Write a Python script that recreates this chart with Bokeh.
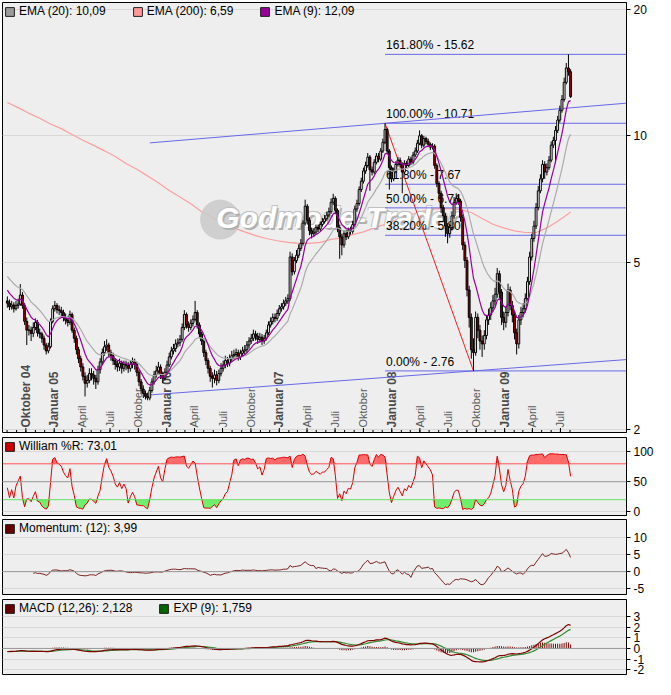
import numpy as np
import pandas as pd
from bokeh.plotting import figure
from bokeh.layouts import column
from bokeh.models import (Range1d, FixedTicker, Legend, LegendItem, Label, Span,
                          PrintfTickFormatter)
from bokeh.embed import file_html
from bokeh.resources import INLINE
from bokeh.core.properties import value

FONT = "Liberation Sans"

# ---------------- data (weekly candles) ----------------
start_date = "2004-08-02"
first_open = 4.05
closes = [4.00, 3.92, 3.96, 3.88, 3.95, 3.98, 4.18, 3.95, 3.62, 3.45,
          3.45, 3.39, 3.50, 3.60, 3.40, 3.38, 3.30, 3.18, 3.08, 3.15,
          3.62, 3.88, 3.95, 3.86, 3.84, 3.80, 3.70, 3.64, 3.60, 3.76,
          3.45, 3.30, 3.10, 2.95, 2.82, 2.68, 2.58, 2.62, 2.72, 2.70,
          2.65, 2.60, 2.78, 2.90, 3.05, 3.15, 3.18, 3.05, 3.00, 2.92,
          2.86, 2.82, 2.88, 2.80, 2.86, 2.84, 2.80, 2.86, 2.90, 2.86,
          2.74, 2.60, 2.50, 2.44, 2.40, 2.38, 2.48, 2.60, 2.70, 2.76,
          2.82, 2.70, 2.65, 2.74, 2.85, 2.98, 3.08, 3.12, 3.20, 3.22,
          3.28, 3.50, 3.76, 3.55, 3.50, 3.58, 3.66, 3.80, 3.55, 3.38,
          3.25, 3.05, 2.92, 2.80, 2.68, 2.65, 2.70, 2.62, 2.72, 2.80,
          2.85, 2.92, 2.88, 2.95, 3.00, 3.02, 3.05, 2.98, 3.04, 3.08,
          3.10, 3.18, 3.25, 3.30, 3.38, 3.34, 3.28, 3.32, 3.25, 3.30,
          3.40, 3.55, 3.62, 3.70, 3.68, 3.78, 3.88, 3.92, 4.00, 4.05,
          4.10, 5.15, 4.75, 5.05, 5.20, 5.40, 5.55, 6.20, 6.80, 6.30,
          5.95, 5.85, 5.90, 6.05, 6.00, 6.15, 6.25, 6.35, 6.48, 6.60,
          6.95, 7.10, 6.65, 6.05, 5.75, 5.50, 5.85, 5.75, 5.95, 5.92,
          6.15, 6.70, 6.90, 7.45, 7.80, 8.25, 8.50, 8.90, 8.30, 8.20,
          8.65, 8.95, 8.80, 9.20, 9.65, 10.35, 9.20, 8.40, 7.90, 8.25,
          8.55, 8.75, 8.55, 8.20, 8.60, 8.50, 8.80, 8.65, 9.00, 9.20,
          9.60, 10.00, 9.50, 9.85, 9.70, 9.55, 9.40, 9.45, 8.50, 7.70,
          7.30, 6.75, 6.45, 6.10, 5.85, 6.05, 6.45, 6.95, 7.10, 7.00,
          6.40, 5.50, 5.05, 4.30, 3.70, 3.10, 3.05, 3.70, 3.45, 3.25,
          3.20, 3.35, 3.65, 3.75, 3.90, 4.05, 4.20, 4.70, 4.25, 3.70,
          3.60, 3.80, 4.30, 3.95, 3.75, 3.40, 3.20, 3.65, 3.80, 3.88,
          4.10, 4.50, 5.15, 5.70, 6.10, 6.75, 7.40, 7.90, 8.55, 8.20,
          8.40, 8.75, 9.50, 9.75, 10.30, 10.90, 11.50, 12.20, 13.40, 14.50,
          14.20, 12.40]
highs = [4.15, 4.08, 4.05, 4.02, 4.05, 4.10, 4.44, 4.25, 4.00, 3.70,
         3.55, 3.52, 3.60, 3.68, 3.65, 3.48, 3.42, 3.35, 3.22, 3.22,
         3.68, 3.95, 4.05, 4.00, 3.95, 3.92, 3.86, 3.78, 3.72, 3.84,
         3.80, 3.50, 3.35, 3.15, 3.00, 2.88, 2.74, 2.70, 2.80, 2.80,
         2.76, 2.70, 2.84, 2.96, 3.12, 3.25, 3.28, 3.22, 3.10, 3.05,
         2.96, 2.92, 2.95, 2.92, 2.92, 2.92, 2.90, 2.92, 2.97, 2.95,
         2.90, 2.78, 2.64, 2.55, 2.48, 2.45, 2.53, 2.65, 2.76, 2.84,
         2.90, 2.86, 2.75, 2.80, 2.92, 3.05, 3.15, 3.20, 3.28, 3.30,
         3.36, 3.58, 3.85, 3.80, 3.62, 3.66, 3.74, 4.05, 3.85, 3.60,
         3.42, 3.30, 3.10, 2.96, 2.84, 2.74, 2.78, 2.76, 2.78, 2.88,
         2.92, 3.00, 2.98, 3.02, 3.08, 3.10, 3.12, 3.10, 3.10, 3.15,
         3.18, 3.25, 3.32, 3.38, 3.46, 3.44, 3.40, 3.40, 3.38, 3.36,
         3.46, 3.62, 3.70, 3.78, 3.78, 3.86, 3.96, 4.00, 4.08, 4.14,
         4.20, 5.30, 5.25, 5.15, 5.35, 5.52, 5.68, 6.30, 7.05, 6.88,
         6.40, 6.05, 6.02, 6.15, 6.15, 6.25, 6.38, 6.48, 6.60, 6.75,
         7.10, 7.28, 7.18, 6.72, 6.15, 5.85, 5.95, 5.98, 6.05, 6.08,
         6.28, 6.82, 7.05, 7.58, 7.95, 8.40, 8.68, 9.10, 9.00, 8.45,
         8.80, 9.10, 9.10, 9.35, 9.85, 10.71, 10.45, 9.30, 8.50, 8.40,
         8.70, 8.90, 8.88, 8.65, 8.75, 8.72, 8.95, 8.92, 9.15, 9.38,
         9.78, 10.30, 10.10, 10.00, 9.95, 9.85, 9.65, 9.60, 9.55, 8.60,
         7.80, 7.40, 6.85, 6.55, 6.20, 6.18, 6.60, 7.15, 7.30, 7.25,
         7.08, 6.50, 5.60, 5.15, 4.40, 3.78, 3.30, 3.82, 3.78, 3.55,
         3.35, 3.45, 3.75, 3.88, 4.02, 4.18, 4.35, 4.85, 4.78, 4.32,
         3.82, 3.92, 4.45, 4.38, 4.05, 3.82, 3.48, 3.75, 3.92, 4.00,
         4.22, 4.62, 5.30, 5.85, 6.28, 6.92, 7.60, 8.10, 8.75, 8.70,
         8.60, 8.95, 9.70, 9.95, 10.55, 11.15, 11.80, 12.50, 13.75, 14.90,
         15.62, 14.40]
lows = [3.90, 3.85, 3.86, 3.80, 3.84, 3.88, 3.94, 3.88, 3.55, 3.18,
        3.35, 3.25, 3.32, 3.45, 3.33, 3.30, 3.22, 3.10, 3.02, 3.04,
        3.12, 3.58, 3.82, 3.78, 3.75, 3.72, 3.62, 3.56, 3.52, 3.55,
        3.40, 3.22, 3.02, 2.88, 2.75, 2.62, 2.40, 2.52, 2.58, 2.62,
        2.56, 2.50, 2.56, 2.72, 2.86, 3.00, 3.08, 2.98, 2.92, 2.85,
        2.78, 2.75, 2.76, 2.72, 2.75, 2.77, 2.73, 2.75, 2.80, 2.78,
        2.68, 2.54, 2.44, 2.38, 2.36, 2.35, 2.35, 2.45, 2.56, 2.66,
        2.72, 2.64, 2.58, 2.62, 2.70, 2.82, 2.94, 3.02, 3.06, 3.14,
        3.16, 3.24, 3.45, 3.48, 3.42, 3.45, 3.52, 3.62, 3.48, 3.30,
        3.18, 2.98, 2.85, 2.72, 2.60, 2.52, 2.58, 2.55, 2.58, 2.68,
        2.75, 2.80, 2.82, 2.83, 2.90, 2.94, 2.96, 2.92, 2.93, 2.98,
        3.02, 3.05, 3.12, 3.20, 3.25, 3.26, 3.20, 3.22, 3.18, 3.20,
        3.26, 3.36, 3.50, 3.56, 3.60, 3.63, 3.73, 3.82, 3.86, 3.94,
        3.98, 4.05, 4.65, 4.68, 4.98, 5.12, 5.32, 5.48, 6.12, 6.15,
        5.80, 5.70, 5.75, 5.82, 5.90, 5.92, 6.08, 6.18, 6.28, 6.40,
        6.52, 6.85, 6.55, 5.90, 5.10, 5.20, 5.42, 5.65, 5.68, 5.82,
        5.85, 6.08, 6.60, 6.82, 7.35, 7.70, 8.12, 8.40, 7.40, 8.05,
        8.10, 8.55, 8.65, 8.70, 9.10, 9.55, 9.05, 7.45, 7.75, 7.80,
        8.15, 8.45, 8.40, 7.30, 8.10, 8.35, 8.40, 8.52, 8.55, 8.90,
        9.10, 9.50, 9.35, 9.40, 9.55, 9.40, 9.25, 9.28, 8.35, 7.55,
        7.10, 6.55, 6.25, 5.75, 5.55, 5.72, 5.95, 6.35, 6.85, 6.85,
        6.25, 5.35, 4.85, 4.15, 3.50, 2.95, 2.76, 3.00, 3.30, 3.10,
        2.98, 3.10, 3.28, 3.55, 3.65, 3.82, 3.95, 4.12, 4.10, 3.55,
        3.45, 3.50, 3.72, 3.85, 3.60, 3.28, 3.02, 3.12, 3.55, 3.70,
        3.80, 4.02, 4.42, 5.05, 5.60, 6.00, 6.65, 7.30, 7.75, 7.90,
        8.05, 8.30, 8.65, 9.35, 8.60, 10.15, 10.75, 11.35, 12.05, 13.25,
        13.90, 12.30]

# EMA(200) as drawn (it carries history from before the window), every 5 weeks
ema200_weeks = list(range(0, 261, 5)) + [261]
ema200_vals = [12.0, 11.67, 11.31, 11.01, 10.67, 10.40, 10.07, 9.76, 9.49, 9.21,
               8.93, 8.59, 8.33, 8.03, 7.73, 7.41, 7.15, 6.89, 6.60, 6.39,
               6.20, 6.04, 5.91, 5.79, 5.70, 5.63, 5.58, 5.55, 5.55, 5.58,
               5.67, 5.72, 5.82, 5.91, 6.04, 6.16, 6.30, 6.43, 6.57, 6.67,
               6.71, 6.71, 6.67, 6.57, 6.36, 6.16, 6.04, 5.94, 5.89, 5.89,
               6.04, 6.26, 6.53, 6.59]

# starting values of the indicators (history before the window)
ema20_seed, ema9_seed = 4.70, 4.37
ema12_seed, ema26_seed, signal_seed = 4.15, 4.45, -0.30

legend_main = ["EMA (20): 10,09", "EMA (200): 6,59", "EMA (9): 12,09"]
legend_wr = "William %R: 73,01"
legend_mom = "Momentum: (12): 3,99"
legend_macd = ["MACD (12,26): 2,128", "EXP (9): 1,759"]

fib_pct = [0.0, 38.2, 50.0, 61.8, 100.0, 161.8]
fib_val = [2.76, 5.80, 6.74, 7.67, 10.71, 15.62]
fib_high_week = 175
fib_low_week = 216
upper_trend_weeks, upper_trend_vals = [66, 175], [9.62, 10.71]
lower_trend_weeks, lower_trend_vals = [66, 216], [2.42, 2.76]

label_dates = ["2004-10-01", "2005-01-01", "2005-04-01", "2005-07-01", "2005-10-01",
               "2006-01-01", "2006-04-01", "2006-07-01", "2006-10-01", "2007-01-01",
               "2007-04-01", "2007-07-01", "2007-10-01", "2008-01-01", "2008-04-01",
               "2008-07-01", "2008-10-01", "2009-01-01", "2009-04-01", "2009-07-01"]
label_texts = ["Oktober 04", "Januar 05", "April", "Juli", "Oktober",
               "Januar 06", "April", "Juli", "Oktober", "Januar 07",
               "April", "Juli", "Oktober", "Januar 08", "April",
               "Juli", "Oktober", "Januar 09", "April", "Juli"]
label_bold = [True, True, False, False, False, True, False, False, False, True,
              False, False, False, True, False, False, False, True, False, False]

price_ticks = [2, 5, 10, 20]
wr_ticks = [0, 50, 100]
mom_ticks = [-5, 0, 5, 10]
macd_ticks = [-2, -1, 0, 1, 2, 3]

# ---------------- helpers ----------------
t0 = pd.Timestamp(start_date)
WEEK_MS = 7 * 24 * 3600 * 1000.0


def wk(w):
    return (t0 + pd.Timedelta(days=7 * w)).value / 1e6


def ms(d):
    return pd.Timestamp(d).value / 1e6


def ema(vals, n, seed):
    a = 2.0 / (n + 1)
    e = seed
    out = []
    for v in vals:
        e = e + a * (v - e)
        out.append(e)
    return np.array(out)


n = len(closes)
c = np.array(closes)
o = np.array([first_open] + closes[:-1])
h = np.array(highs)
l = np.array(lows)
x = np.array([wk(i) for i in range(n)])

ema20 = ema(c, 20, ema20_seed)
ema9 = ema(c, 9, ema9_seed)

wr = np.array([100.0 * (c[i] - l[max(0, i - 13):i + 1].min()) /
               (h[max(0, i - 13):i + 1].max() - l[max(0, i - 13):i + 1].min()) for i in range(n)])
mom = np.array([c[i] - c[i - 12] if i >= 12 else np.nan for i in range(n)])
macd = ema(c, 12, ema12_seed) - ema(c, 26, ema26_seed)
signal = ema(macd, 9, signal_seed)
hist = macd - signal

x_start, x_end = wk(-2.25), wk(286.9)
xr = Range1d(start=x_start, end=x_end)

BG = "#EEEEEE"
GRID = "#D8D8D8"
FW = 624


def make_fig(frame_h, y_range, ticks, y_type="linear", top=1, bottom=3):
    p = figure(frame_width=FW, frame_height=frame_h, x_range=xr, y_range=y_range,
               x_axis_type="datetime", y_axis_type=y_type, y_axis_location="right",
               x_axis_location=None,
               output_backend="svg", toolbar_location=None,
               min_border_left=2, min_border_right=0, min_border_top=top,
               min_border_bottom=bottom, background_fill_color=BG,
               border_fill_color="white", outline_line_color="black",
               outline_line_width=1)
    p.xgrid.grid_line_color = None
    p.ygrid.grid_line_color = GRID
    ax = p.yaxis[0]
    ax.ticker = FixedTicker(ticks=ticks, minor_ticks=[])
    ax.formatter = PrintfTickFormatter(format="%d")
    ax.major_tick_out = 4
    ax.major_tick_in = 0
    ax.minor_tick_out = 0
    ax.minor_tick_in = 0
    ax.major_label_standoff = 3
    ax.major_label_text_font = FONT
    ax.major_label_text_font_size = "12px"
    ax.major_label_text_color = "black"
    ax.axis_line_color = "black"
    ax.major_tick_line_color = "black"
    return p


def legend_for(p, names, colors, spacing=26):
    items = []
    for name, col in zip(names, colors):
        r = p.quad(left=[np.nan], right=[np.nan], top=[np.nan], bottom=[np.nan],
                   fill_color=col, line_color="#222222", line_width=1)
        items.append(LegendItem(label=value(name), renderers=[r]))
    lg = Legend(items=items, location="top_left", orientation="horizontal",
                background_fill_alpha=0, border_line_color=None,
                label_text_font=FONT, label_text_font_size="12px",
                label_text_color="black", glyph_width=11, glyph_height=11,
                label_height=11, label_standoff=4, spacing=spacing,
                padding=1, margin=2)
    p.add_layout(lg)


# ---------------- main price panel ----------------
Y0 = 1.97
p1 = make_fig(430, Range1d(Y0, 20.75), price_ticks, y_type="log", top=2, bottom=4)

# month ticks along the bottom edge (quarterly long, monthly short)
quarters = [ms(f"{y}-{m:02d}-01") for y in range(2004, 2010) for m in (1, 4, 7, 10)
            if pd.Timestamp("2004-08-01") <= pd.Timestamp(f"{y}-{m:02d}-01") <= pd.Timestamp("2009-08-15")]
months = [ms(f"{y}-{m:02d}-01") for y in range(2004, 2010) for m in range(1, 13)
          if pd.Timestamp("2004-08-01") <= pd.Timestamp(f"{y}-{m:02d}-01") <= pd.Timestamp("2009-08-15")]
p1.scatter(x=months, y=[Y0] * len(months), marker="dash", angle=np.pi / 2, size=5,
           line_color="black", line_width=1)
p1.scatter(x=quarters, y=[Y0] * len(quarters), marker="dash", angle=np.pi / 2, size=9,
           line_color="black", line_width=1)

# month labels inside the plot
lx = [ms(d) for d in label_dates]
bold_idx = [i for i, b in enumerate(label_bold) if b]
norm_idx = [i for i, b in enumerate(label_bold) if not b]
p1.text(x=[lx[i] for i in norm_idx], y=[Y0] * len(norm_idx),
        text=[label_texts[i] for i in norm_idx], angle=np.pi / 2,
        text_align="left", text_baseline="middle", y_offset=-5,
        text_font=value(FONT), text_font_size="11px", text_color="#5A5A5A")
p1.text(x=[lx[i] for i in bold_idx], y=[Y0] * len(bold_idx),
        text=[label_texts[i] for i in bold_idx], angle=np.pi / 2,
        text_align="left", text_baseline="middle", y_offset=-5,
        text_font=value(FONT), text_font_size="12px", text_font_style="bold",
        text_color="#4A4A4A")

# EMA 200
p1.line([wk(w) for w in ema200_weeks], ema200_vals, line_color="#FF9E9E", line_width=1.2)

# watermark
p1.scatter(x=[wk(98.6)], y=[6.32], marker="circle", size=40,
           fill_color="#C9C9C9", line_color=None, fill_alpha=0.85)
for dx, dy, col in [(2, 2, "#B0B0B0"), (-1, -1, "#C8C8C8"), (1, -1, "#C0C0C0"), (0, 0, "white")]:
    p1.text(x=[wk(96.8)], y=[6.39], text=["Godmode-Trader"], x_offset=dx, y_offset=dy,
            text_font=value(FONT), text_font_size="30px", text_font_style="bold italic",
            text_color=col, text_baseline="middle", text_align="left")

# fibonacci levels
fib_labels = [f"{pc:.2f}% - {v:.2f}" for pc, v in zip(fib_pct, fib_val)]
FIB_COL = "#6868E8"
p1.segment(x0=[wk(fib_high_week)] * len(fib_val), y0=fib_val,
           x1=[x_end] * len(fib_val), y1=fib_val, line_color=FIB_COL, line_width=1)
p1.text(x=[wk(fib_high_week)] * len(fib_val), y=fib_val, text=fib_labels,
        x_offset=1, y_offset=-2, text_baseline="bottom", text_align="left",
        text_font=value(FONT), text_font_size="12px", text_color="black")


def extend(weeks, vals, w_end):
    lv0, lv1 = np.log10(vals[0]), np.log10(vals[1])
    slope = (lv1 - lv0) / (weeks[1] - weeks[0])
    return 10 ** (lv1 + slope * (w_end - weeks[1]))


w_end = 286.9
for tw, tv in [(upper_trend_weeks, upper_trend_vals), (lower_trend_weeks, lower_trend_vals)]:
    p1.line([wk(tw[0]), x_end], [tv[0], extend(tw, tv, w_end)], line_color=FIB_COL, line_width=1)

# red retracement line
p1.line([wk(fib_high_week), wk(fib_low_week)], [fib_val[4], fib_val[0]],
        line_color="#EE2222", line_width=1)

# candles
up = c >= o
top = np.maximum(o, c)
bot = np.minimum(o, c)
p1.segment(x0=x, y0=h, x1=x, y1=l, line_color="black", line_width=1)
p1.vbar(x=x[up], width=0.85 * WEEK_MS, top=top[up], bottom=bot[up],
        fill_color="white", line_color="black", line_width=1)
p1.vbar(x=x[~up], width=0.85 * WEEK_MS, top=top[~up], bottom=bot[~up],
        fill_color="#990000", line_color="black", line_width=1)

# EMA 20 / 9
p1.line(x, ema20, line_color="#ABABAB", line_width=1.2)
p1.line(x, ema9, line_color="#990099", line_width=1.2)

legend_for(p1, legend_main, ["#9A9A9A", "#FF9999", "#990099"])

# ---------------- Williams %R ----------------
p2 = make_fig(78, Range1d(-6.5, 124), wr_ticks)
p2.varea(x=x, y1=np.full(n, 80.0), y2=np.maximum(wr, 80.0), fill_color="#FF6A6A")
p2.varea(x=x, y1=np.minimum(wr, 20.0), y2=np.full(n, 20.0), fill_color="#6EF06E")
p2.add_layout(Span(location=80, dimension="width", line_color="#FF5555", line_width=1))
p2.add_layout(Span(location=50, dimension="width", line_color="#9A9A9A", line_width=1))
p2.add_layout(Span(location=20, dimension="width", line_color="#66E066", line_width=1))
p2.line(x, wr, line_color="#E00000", line_width=1)
for lvl, col in [(80, "#FF8080"), (20, "#77DD77")]:
    p2.add_layout(Label(x=x_end, y=lvl, text=str(lvl), x_offset=7, text_baseline="middle",
                        text_align="left", text_font=FONT, text_font_size="12px",
                        text_color=col))
legend_for(p2, [legend_wr], ["#CC0000"])

# ---------------- Momentum ----------------
p3 = make_fig(75, Range1d(-6.8, 15.5), mom_ticks, bottom=4)
p3.add_layout(Span(location=0, dimension="width", line_color="#9A9A9A", line_width=1))
p3.line(x, mom, line_color="#7A1F1F", line_width=1)
legend_for(p3, [legend_mom], ["#660000"])

# ---------------- MACD ----------------
p4 = make_fig(75, Range1d(-2.45, 4.6), macd_ticks, bottom=4)
p4.add_layout(Span(location=0, dimension="width", line_color="#9A9A9A", line_width=1))
p4.vbar(x=x, width=0.45 * WEEK_MS, top=np.maximum(hist, 0), bottom=np.minimum(hist, 0),
        fill_color="#800000", line_color=None)
p4.line(x, signal, line_color="#2E8B2E", line_width=1.2)
p4.line(x, macd, line_color="#800000", line_width=1.2)
legend_for(p4, legend_macd, ["#660000", "#006600"])

layout = column(p1, p2, p3, p4, spacing=0)
with open("out.html", "w") as f:
    f.write(file_html(layout, INLINE, title="Chart"))
